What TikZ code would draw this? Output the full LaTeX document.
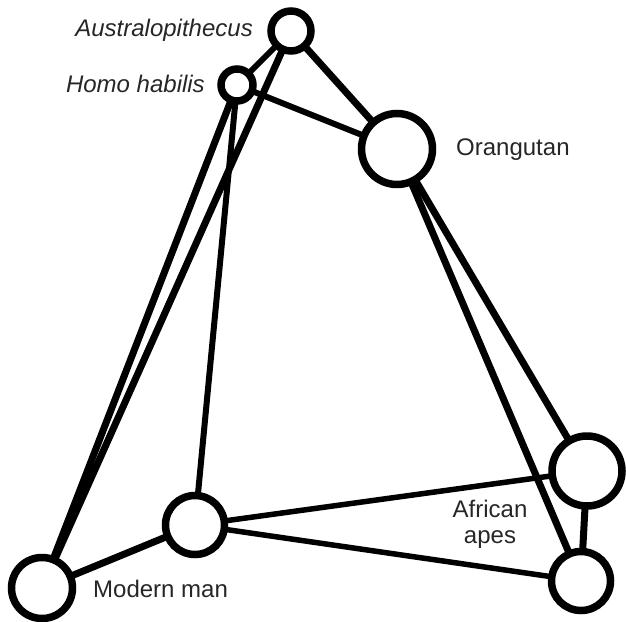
\documentclass[tikz,border=0pt]{standalone}
\usepackage{fontspec}
\setmainfont{Liberation Sans}
\begin{document}
\begin{tikzpicture}[x=1pt,y=-1pt,
  hub/.style={circle,draw=black,fill=white,line width=7.5pt,inner sep=0pt,outer sep=0pt},
  lab/.style={inner sep=0pt,font=\fontsize{24}{26}\selectfont,text=black!85},
  thk/.style={line width=7pt},
  med/.style={line width=6pt},
  thn/.style={line width=5.5pt}]
\useasboundingbox (0,0) rectangle (626,621);
% circles
\node[hub,minimum size=40pt] (A) at (291,31) {};
\node[hub,minimum size=32pt] (H) at (237,85) {};
\node[hub,minimum size=71pt] (O) at (397,149) {};
\node[hub,minimum size=70pt] (U) at (587,471) {};
\node[hub,minimum size=59pt] (L) at (581,581) {};
\node[hub,minimum size=59pt] (M) at (195,525) {};
\node[hub,minimum size=61pt] (B) at (42,588) {};
% connectors
\draw[med] (A) -- (H);
\draw[thk] (A) -- (O);
\draw[med] (H) -- (O);
\draw[thk] (A) -- (B);
\draw[thk] (H) -- (B);
\draw[med] (H) -- (M);
\draw[thk] (O) -- (U);
\draw[thk] (O) -- (L);
\draw[thk] (U) -- (L);
\draw[thn] (M) -- (U);
\draw[thn] (M) -- (L);
\draw[thk] (M) -- (B);
% labels
\node[lab,anchor=base east,font=\fontsize{24}{26}\selectfont\itshape] (tA) at (253,36) {Australopithecus};
\node[lab,anchor=base east,font=\fontsize{24}{26}\selectfont\itshape] (tH) at (205,92) {Homo habilis};
\node[lab,anchor=base west] (tO) at (456,155) {Orangutan};
\node[lab,anchor=base west] (tM) at (93,597) {Modern man};
\node[lab,anchor=base,align=center] (tAf) at (490,543) {African\\apes};
\end{tikzpicture}
\end{document}
